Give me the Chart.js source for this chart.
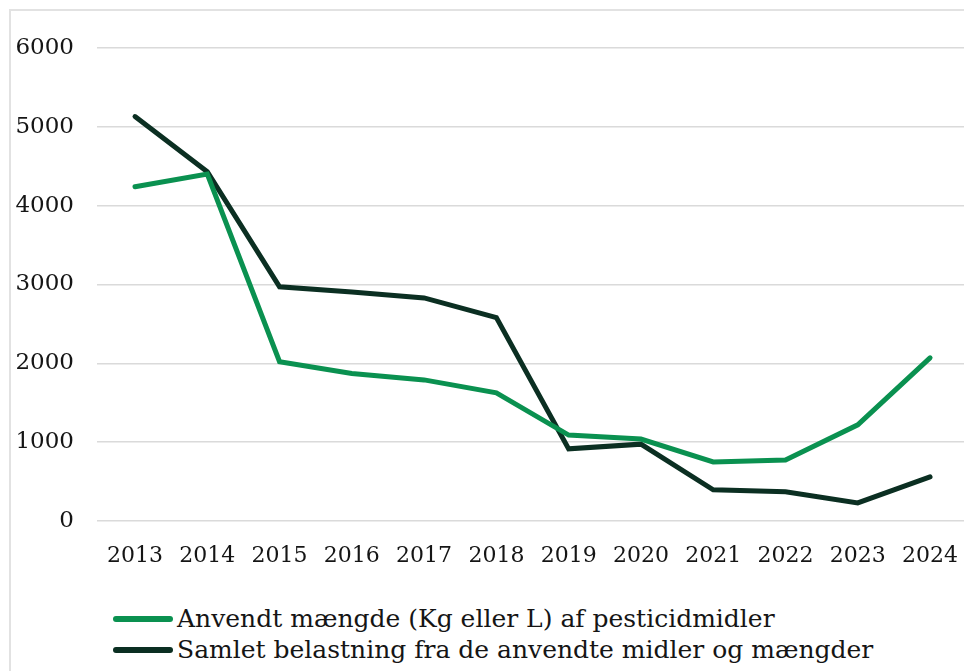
<!DOCTYPE html>
<html>
<head>
<meta charset="utf-8">
<script src="https://cdn.jsdelivr.net/npm/chart.js@4.4.1/dist/chart.umd.min.js"></script>
<style>
  html, body { margin: 0; padding: 0; background: #fff; }
  body { width: 964px; height: 671px; position: relative; overflow: hidden; font-family: 'DejaVu Serif', serif; }
  .frame { position: absolute; left: 9px; top: 9px; right: -10px; bottom: -10px;
           border-left: 2px solid #e2e2e2; border-top: 2px solid #e2e2e2; }
  #wrap { position: absolute; left: 0; top: 0; width: 964px; height: 580px; }
  #legend { position: absolute; left: 113px; top: 603px; }
  .item { display: flex; align-items: center; height: 31px; font-size: 25px; color: #151515; white-space: nowrap; }
  .swatch { width: 60px; height: 6px; border-radius: 3px; margin-right: 4px; }
</style>
</head>
<body>
<div class="frame"></div>
<div id="wrap"><canvas id="lineChart" width="964" height="580"></canvas></div>
<div id="legend"></div>
<script>
/* ── data ───────────────────────────────────────────── */
const years = [2013, 2014, 2015, 2016, 2017, 2018, 2019, 2020, 2021, 2022, 2023, 2024];
const anvendt = [4240, 4400, 2020, 1870, 1790, 1625, 1090, 1040, 750, 775, 1220, 2070];
const belastning = [5130, 4430, 2970, 2905, 2830, 2580, 915, 975, 395, 370, 230, 560];
const yTicks = [0, 1000, 2000, 3000, 4000, 5000, 6000];
const seriesLabels = [
  'Anvendt mængde (Kg eller L) af pesticidmidler',
  'Samlet belastning fra de anvendte midler og mængder'
];
const seriesColors = ['#0a9150', '#0b2f22'];

Chart.defaults.font.family = "'DejaVu Serif', serif";
Chart.defaults.color = '#151515';

function points(vals) {
  return years.map((yr, i) => ({ x: yr, y: vals[i] }));
}

const ctx = document.getElementById('lineChart').getContext('2d');
const chart = new Chart(ctx, {
  type: 'line',
  data: {
    datasets: [
      { label: seriesLabels[0], data: points(anvendt), borderColor: seriesColors[0] },
      { label: seriesLabels[1], data: points(belastning), borderColor: seriesColors[1] }
    ].map(d => Object.assign(d, {
      borderWidth: 5, pointRadius: 0, tension: 0, fill: false, borderCapStyle: 'round'
    }))
  },
  options: {
    responsive: false,
    animation: false,
    layout: { padding: { top: 48, right: 0, bottom: 0, left: 0 } },
    plugins: { legend: { display: false }, tooltip: { enabled: false } },
    scales: {
      x: {
        type: 'linear',
        min: 2012.474,
        max: 2024.47,
        afterBuildTicks: s => { s.ticks = years.map(v => ({ value: v })); },
        // keep the plot running to the right edge, labels fit anyway
        afterFit: s => { s.height = 59; s.paddingLeft = 0; s.paddingRight = 0; },
        grid: { display: false },
        border: { display: false },
        ticks: { font: { size: 22 }, padding: 14, maxRotation: 0, callback: v => String(v) }
      },
      y: {
        min: 0,
        max: 6000,
        afterBuildTicks: s => { s.ticks = yTicks.map(v => ({ value: v })); },
        afterFit: s => { s.width = 97; },
        grid: { color: '#dadada', lineWidth: 1.5, drawTicks: false },
        border: { display: false },
        ticks: { font: { size: 23 }, padding: 23, callback: v => String(v) }
      }
    }
  }
});

// HTML legend, stacked
const legend = document.getElementById('legend');
chart.data.datasets.forEach(ds => {
  const row = document.createElement('div');
  row.className = 'item';
  row.innerHTML = `<span class="swatch" style="background:${ds.borderColor}"></span><span>${ds.label}</span>`;
  legend.appendChild(row);
});
</script>
</body>
</html>
